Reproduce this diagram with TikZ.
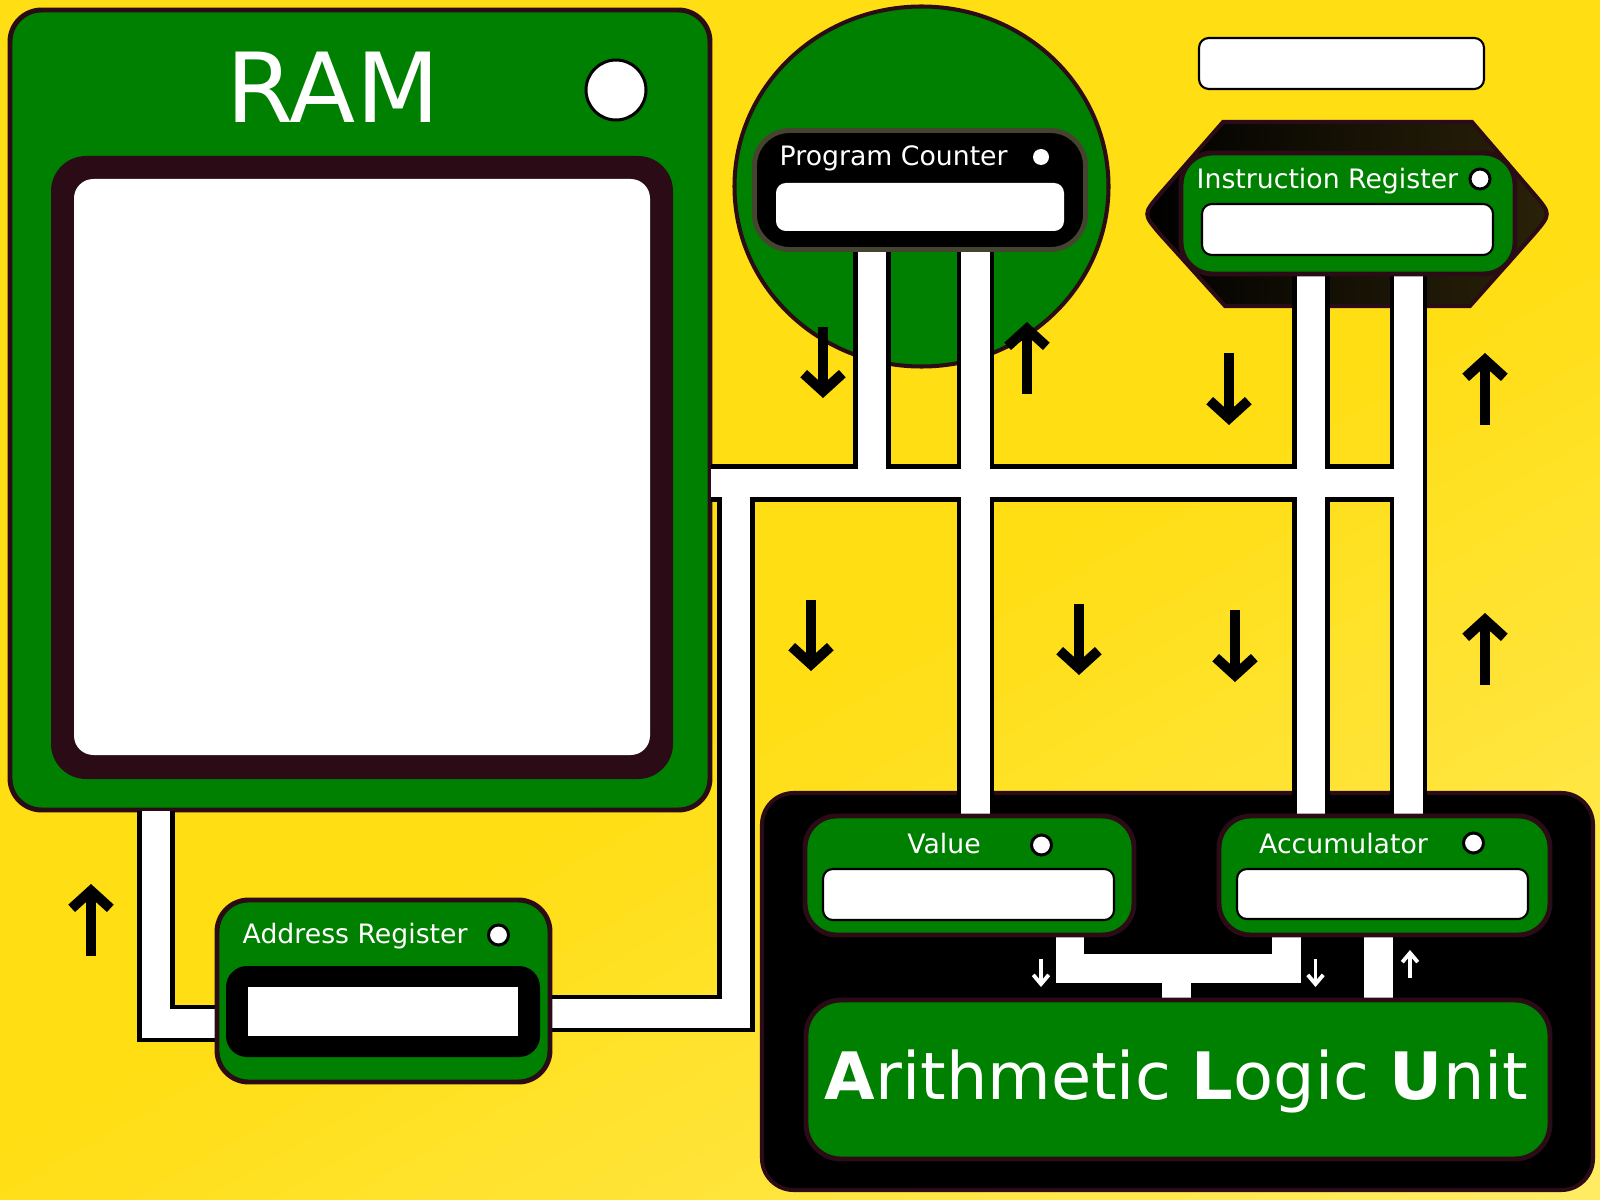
\documentclass[tikz,border=0pt]{standalone}
\usepackage{fontspec}
\setmainfont{DejaVu Sans}
\usetikzlibrary{arrows.meta}
\definecolor{bgyel}{RGB}{255,222,20}
\definecolor{bgyelB}{RGB}{255,236,100}
\definecolor{boardgreen}{RGB}{0,128,0}
\definecolor{rimdark}{RGB}{43,12,22}
\definecolor{pcrim}{RGB}{68,68,48}
\definecolor{irolive}{RGB}{42,34,8}
\tikzset{
  % panels
  board/.style     = {fill=boardgreen, draw=rimdark, line width=1.4pt, rounded corners=9pt},
  field/.style     = {fill=white, draw=black, line width=0.6pt, rounded corners=2.8pt},
  led/.style       = {fill=white, draw=black, line width=0.85pt},
  lab/.style       = {text=white, font=\fontsize{7.6}{9}\selectfont, inner sep=0pt},
  % buses
  busedge/.style   = {draw=black, line width=10.8pt, line join=miter},
  buscore/.style   = {draw=white, line width=8pt, line join=miter},
  % arrows
  flowarrow/.style = {line width=2.85pt, -{Straight Barb[length=5pt,width=11pt]}},
  tinyarrow/.style = {white, line width=1.1pt, -{Straight Barb[length=2.6pt,width=4.4pt]}},
}
\begin{document}
\begin{tikzpicture}[x=0.1mm, y=-0.1mm]
  \useasboundingbox (0,0) rectangle (1600,1200);
  % background, lighter towards the lower right
  \fill[bgyel] (0,0) rectangle (1600,1200);
  \begin{scope}
    \clip (0,0) rectangle (1600,1200);
    \foreach \i [evaluate=\i as \pa using 1000+\i*35,
                 evaluate=\i as \pb using 1036+\i*35,
                 evaluate=\i as \pct using (\i+0.5)*100/24] in {0,...,23}
      \fill[bgyelB!\pct!bgyel, rotate=-60] (\pa,-2500) rectangle (\pb,2500);
  \end{scope}

  % RAM
  \draw[board] (10,10) rectangle (710,810);
  \node[lab, anchor=base, font=\fontsize{27.5}{30}\selectfont] (ramlabel) at (333,123) {RAM};
  \draw[led] (616,90) circle (30);
  \fill[rimdark, rounded corners=10pt] (51,156) rectangle (673,779);
  \fill[white, rounded corners=5.5pt] (74,179) rectangle (650,755);

  % Program counter disc and instruction register plate
  \draw[fill=boardgreen, draw=rimdark, line width=1.15pt] (921.5,186.5) ellipse [x radius=187, y radius=180];
  \shadedraw[left color=black, right color=irolive, draw=rimdark, line width=1.15pt]
    (1223,122) -- (1472,122) -- (1534,194) .. controls (1551,214) .. (1534,234)
    -- (1470,306) -- (1225,306) -- (1160,234) .. controls (1143,214) .. (1160,194) -- cycle;
  \draw[field] (1199,38) rectangle (1484,89);

  % ALU housing
  \draw[fill=black, draw=rimdark, line width=1.15pt, rounded corners=9pt] (762,793) rectangle (1593,1190);

  % Buses
  \foreach \sty in {busedge,buscore} {
    \draw[\sty] (711,483) -- (1408.5,483);
    \draw[\sty] (736,483) -- (736,1013.5) -- (552,1013.5);
    \draw[\sty] (156,811) -- (156,1023.5) -- (216,1023.5);
    \draw[\sty] (872,245) -- (872,483);
    \draw[\sty] (975.5,245) -- (975.5,830);
    \draw[\sty] (1311,265) -- (1311,830);
    \draw[\sty] (1408.5,265) -- (1408.5,830);
    \draw[\sty] (1070,930) -- (1070,968.5) -- (1286.5,968.5) -- (1286.5,930);
    \draw[\sty] (1176.5,968.5) -- (1176.5,1005);
    \draw[\sty] (1378.5,930) -- (1378.5,1005);
  }

  % Program Counter
  \draw[fill=black, draw=pcrim, line width=1.4pt, rounded corners=10pt] (754.5,130.5) rectangle (1085.5,249.5);
  \node[lab, anchor=base west] (pclabel) at (779,166) {Program Counter};
  \fill[white] (1041,157) circle (8);
  \fill[white, rounded corners=2.8pt] (776,183) rectangle (1064,231);

  % Instruction Register
  \draw[board] (1181,153) rectangle (1515,274);
  \node[lab, anchor=base west] (irlabel) at (1196,189) {Instruction Register};
  \draw[led] (1480,179) circle (10);
  \draw[field] (1202,204) rectangle (1493,255);

  % Address Register
  \draw[board] (217,900) rectangle (550,1082);
  \node[lab, anchor=base west] (arlabel) at (242,943) {Address Register};
  \draw[led] (498.5,935) circle (10);
  \fill[black, rounded corners=6pt] (226,966) rectangle (540,1057);
  \fill[white] (248,987) rectangle (518,1036);

  % Value and Accumulator
  \draw[board] (805,816) rectangle (1134,935);
  \node[lab, anchor=base] (vallabel) at (944,853) {Value};
  \draw[led] (1041.5,845) circle (10);
  \draw[field] (823,869) rectangle (1114,920);
  \draw[board] (1219,816) rectangle (1550,935);
  \node[lab, anchor=base] (acclabel) at (1343.5,853) {Accumulator};
  \draw[led] (1473.5,843) circle (10);
  \draw[field] (1237,869) rectangle (1528,919);

  % Arithmetic Logic Unit
  \draw[board, rounded corners=10pt] (806,1000) rectangle (1550,1159);
  \node[lab, anchor=base, font=\fontsize{18.6}{22}\selectfont] (alulabel) at (1176.5,1099)
    {\textbf{A}rithmetic \textbf{L}ogic \textbf{U}nit};

  % Data flow arrows
  \foreach \x/\ya/\yb in {823/327/398, 1027/394/322, 1229/353/425, 1485/425/353,
                          1485/685/613, 811/600/671, 1079/604/675, 1235/610/682, 91/956/884}
    \draw[flowarrow] (\x,\ya) -- (\x,\yb);
  \foreach \x/\ya/\yb in {1041/959/987, 1315.5/959/987, 1410/978/950}
    \draw[tinyarrow] (\x,\ya) -- (\x,\yb);
\end{tikzpicture}
\end{document}
